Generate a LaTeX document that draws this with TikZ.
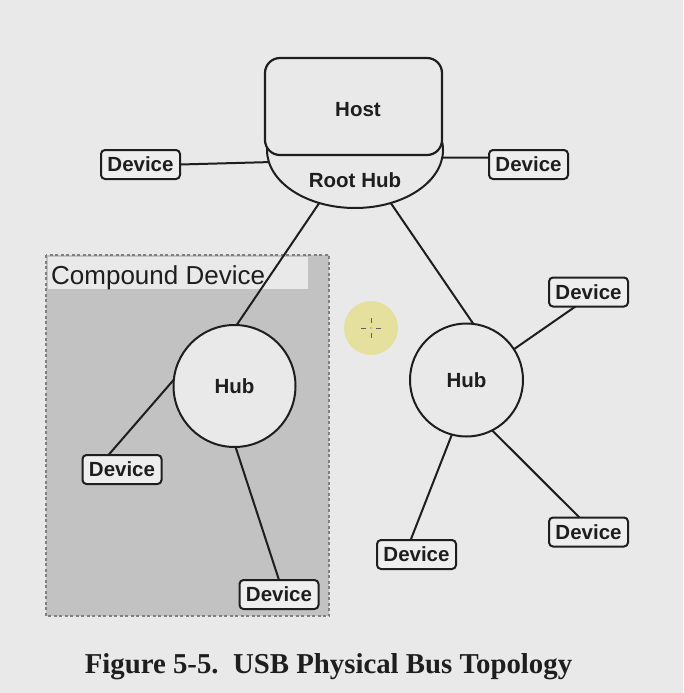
\documentclass[tikz,border=0pt]{standalone}
\usepackage{fontspec}
\setmainfont{Liberation Serif}
\setsansfont{Liberation Sans}
\usetikzlibrary{shapes.geometric}
\definecolor{bgc}{RGB}{233,233,233}
\definecolor{boxc}{RGB}{238,238,238}
\definecolor{cmpc}{RGB}{194,194,194}
\definecolor{cmpedge}{RGB}{128,128,128}
\definecolor{inkc}{RGB}{30,30,30}
\definecolor{cursorc}{RGB}{229,224,150}
\pgfdeclarelayer{back}
\pgfdeclarelayer{lines}
\pgfsetlayers{back,lines,main}
\tikzset{
  lbl/.style={font=\sffamily\bfseries\fontsize{20.5}{24}\selectfont, text=inkc},
  devbox/.style={draw=inkc, line width=2pt, fill=boxc, rounded corners=4pt,
    minimum width=79pt, minimum height=29pt, inner sep=0pt, outer sep=0pt, lbl},
  hubnode/.style={draw=inkc, line width=2pt, fill=bgc, circle, inner sep=0pt, outer sep=0pt, lbl},
  conn/.style={draw=inkc, line width=2pt},
}
\begin{document}
\begin{tikzpicture}[x=1pt, y=-1pt]
\useasboundingbox (0,0) rectangle (683,693);

% root hub (half ellipse under the host)
\node[ellipse, draw=inkc, line width=2pt, fill=bgc, minimum width=176pt, minimum height=116pt,
      inner sep=0pt, outer sep=0pt] (rh) at (355,150) {};
\node[lbl] (rhtext) at (355,180) {Root Hub};
\node[draw=inkc, line width=2.2pt, fill=bgc, rounded corners=15pt, minimum width=177pt,
      minimum height=97pt, inner sep=0pt, outer sep=0pt, lbl] (host) at (353.5,106.5) {};
\node[lbl] (hosttext) at (358,110) {Host};

% devices near root hub
\node[devbox] (devL0) at (140.5,164.5) {Device};
\node[devbox] (devR0) at (528.5,164.5) {Device};

% background and compound device
\begin{pgfonlayer}{back}
  \fill[bgc] (0,0) rectangle (683,693);
  \fill[cmpc] (46,255) rectangle (329,616);
  \draw[cmpedge, line width=1.5pt, dash pattern=on 3pt off 2.5pt] (46,255) rectangle (329,616);
  \fill[bgc] (48,257) rectangle (308,289);
\end{pgfonlayer}
\node[anchor=base west, inner sep=0pt, font=\sffamily\fontsize{26}{30}\selectfont, text=inkc] (cmptext) at (51,284.5) {Compound Device};

% hubs
\node[hubnode, minimum size=122pt] (hubL) at (234.5,386) {Hub};
\node[hubnode, minimum size=113pt] (hubR) at (466.5,380) {Hub};

% devices on hubs
\node[devbox] (devL1) at (122,469.5) {Device};
\node[devbox] (devL2) at (279,594.5) {Device};
\node[devbox] (devR1) at (588.5,292) {Device};
\node[devbox] (devR2) at (588.5,532) {Device};
\node[devbox] (devB) at (416.5,554.5) {Device};

% connectors
\begin{pgfonlayer}{lines}
  \draw[conn] (devL0.east) -- (rh.188.6);
  \draw[conn] (devR0.170.6) -- (rh.-5.5);
  \draw[conn] (rh.-124.4) -- (hubL.88.6);
  \draw[conn] (rh.-56.9) -- (hubR.83.4);
  \draw[conn] (hubL.174.8) -- (devL1.133);
  \draw[conn] (hubL.-89.5) -- (devL2.north);
  \draw[conn] (hubR.33.2) -- (devR1.-132);
  \draw[conn] (hubR.-63) -- (devR2.122.3);
  \draw[conn] (hubR.-105.3) -- (devB.112.8);
\end{pgfonlayer}

% cursor highlight
\fill[cursorc, opacity=0.9] (371,328) circle[radius=27];
\draw[inkc!70, line width=1pt] (371,318) -- (371,323) (371,333) -- (371,338)
  (361,328) -- (366,328) (376,328) -- (381,328);
\fill[inkc!70] (371,328) circle[radius=0.6];

% caption
\node[anchor=base, inner sep=0pt, font=\rmfamily\bfseries\fontsize{28.8}{32}\selectfont, text=inkc]
  (caption) at (328.5,673) {Figure 5-5.~~USB Physical Bus Topology};
\end{tikzpicture}
\end{document}
